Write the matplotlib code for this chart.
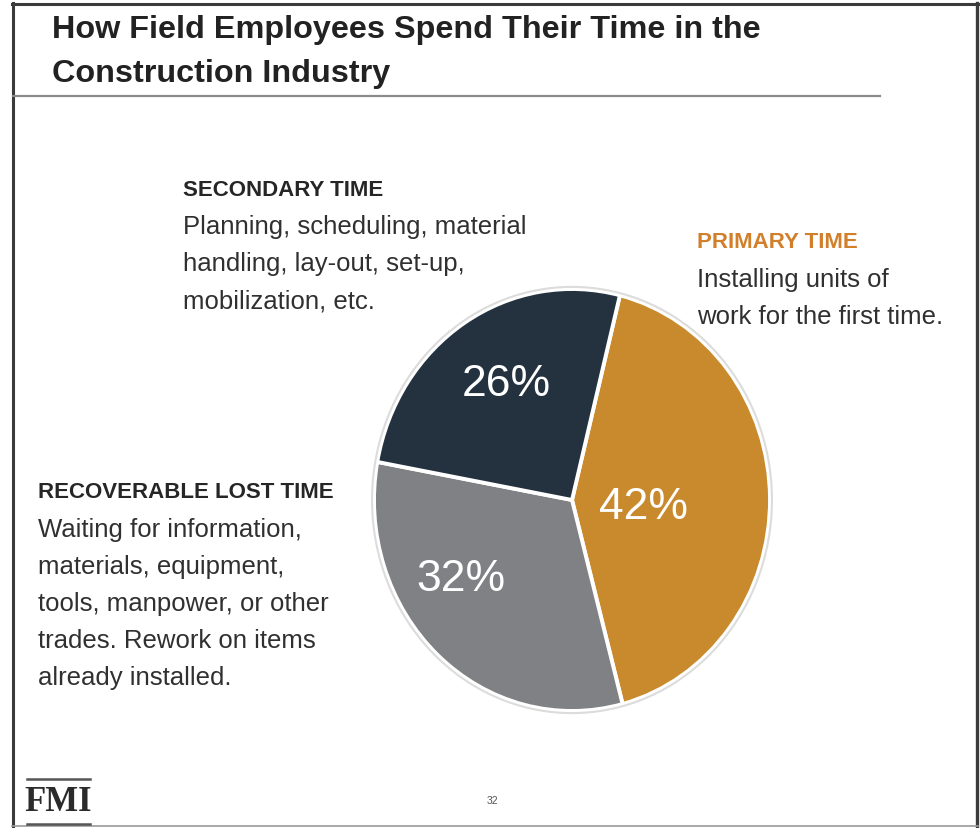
import matplotlib
matplotlib.use("Agg")
import matplotlib.pyplot as plt
from matplotlib.lines import Line2D
from matplotlib.patches import Ellipse

# ---- data ----
categories = ["PRIMARY TIME", "RECOVERABLE LOST TIME", "SECONDARY TIME"]
shares = [42, 32, 26]
descriptions = [
    "Installing units of\nwork for the first time.",
    "Waiting for information,\nmaterials, equipment,\ntools, manpower, or other\ntrades. Rework on items\nalready installed.",
    "Planning, scheduling, material\nhandling, lay-out, set-up,\nmobilization, etc.",
]
title = "How Field Employees Spend Their Time in the\nConstruction Industry"
page_number = "32"
logo = "FMI"

# ---- style ----
wedge_colors = ["#C98A2E", "#7F8184", "#243240"]
heading_colors = ["#D17F2A", "#262626", "#262626"]
W, H = 980, 829
fig = plt.figure(figsize=(W / 100, H / 100), dpi=100)
fig.patch.set_facecolor("white")


def fx(x):
    return x / W


def fy(y):
    return 1 - y / H


def hline(x0, x1, y, **kw):
    fig.add_artist(Line2D([fx(x0), fx(x1)], [fy(y), fy(y)], transform=fig.transFigure, **kw))


def vline(x, y0, y1, **kw):
    fig.add_artist(Line2D([fx(x), fx(x)], [fy(y0), fy(y1)], transform=fig.transFigure, **kw))


# frame
hline(12, 978, 5, color="#3a3a3a", lw=2.2)
vline(13, 4, 829, color="#3a3a3a", lw=2.2)
vline(977, 4, 829, color="#3a3a3a", lw=2.4)
hline(12, 978, 827, color="#9a9a9a", lw=1.2)

# title
fig.text(fx(52), fy(15), title, ha="left", va="top", fontsize=23.3,
         fontweight="bold", color="#222222", linespacing=1.6,
         family=["Liberation Sans", "DejaVu Sans"])
hline(13, 880, 97, color="#8a8a8a", lw=1.6)

# pie
cx, cy, rx, ry = 572, 501, 198, 211
m = 1.06
ax = fig.add_axes([fx(cx - rx * m), fy(cy + ry * m), 2 * rx * m / W, 2 * ry * m / H])
wedges, _ = ax.pie(shares, colors=wedge_colors, startangle=76, counterclock=False,
                   wedgeprops=dict(edgecolor="white", linewidth=2.8))
ax.set_aspect("auto")
ax.set_xlim(-m, m)
ax.set_ylim(-m, m)
ax.axis("off")
ax.add_patch(Ellipse((0, 0), 2.02, 2.02, fill=False, edgecolor="#dcdcdc", lw=1.5))

label_pos = [(0.36, -0.03), (-0.56, -0.37), (-0.33, 0.55)]
for v, (lx, ly) in zip(shares, label_pos):
    ax.text(lx, ly, f"{v}%", ha="center", va="center", color="white",
            fontsize=32, family=["Liberation Sans", "DejaVu Sans"])

# side descriptions
text_layout = [(697, 243), (38, 493), (183, 190)]
for cat, desc, col, (tx, ty) in zip(categories, descriptions, heading_colors, text_layout):
    fig.text(fx(tx), fy(ty), cat, ha="left", va="center", fontsize=16,
             fontweight="bold", color=col, family=["Liberation Sans", "DejaVu Sans"])
    fig.text(fx(tx), fy(ty + 25), desc, ha="left", va="top", fontsize=18.5,
             color="#303030", linespacing=1.69, family=["Liberation Sans", "DejaVu Sans"])

# footer
fig.text(fx(58), fy(803), logo, ha="center", va="center", fontsize=25,
         fontweight="bold", color="#2b2b2b", family=["Liberation Serif", "DejaVu Serif"])
hline(27, 90, 780, color="#555555", lw=1.8)
hline(27, 90, 825, color="#555555", lw=1.8)
fig.text(fx(492), fy(801), page_number, ha="center", va="center", fontsize=7.5,
         color="#555555", family=["Liberation Sans", "DejaVu Sans"])

fig.savefig("out.png", dpi=100, facecolor="white")
